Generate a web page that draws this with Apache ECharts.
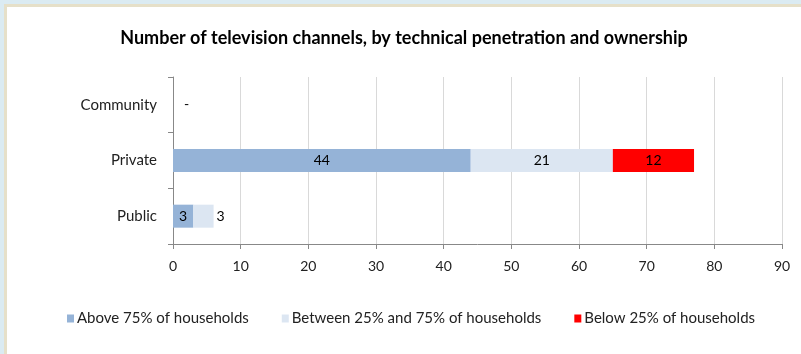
<!DOCTYPE html>
<html><head><meta charset="utf-8">
<script src="https://cdn.jsdelivr.net/npm/echarts@6/dist/echarts.min.js"></script>
<style>
html,body{margin:0;padding:0;background:#dbebf2;width:801px;height:354px;overflow:hidden;}
#frame{position:absolute;left:4px;top:4px;width:797px;height:350px;background:#e6e0c9;}
#chart{position:absolute;left:7px;top:7px;width:794px;height:347px;background:#fff;}
</style></head>
<body><div id="frame"></div><div id="chart"></div>
<script>
var categories = ['Public', 'Private', 'Community'];
var seriesNames = ['Above 75% of households', 'Between 25% and 75% of households', 'Below 25% of households'];
var above = [3, 44, 0];
var between = [3, 21, 0];
var below = [0, 12, 0];
var xTicks = [0, 10, 20, 30, 40, 50, 60, 70, 80, 90];
var colors = ['#95b3d7', '#dce6f2', '#ff0000'];

var font = 'Lato, "Open Sans", sans-serif';
var chart = echarts.init(document.getElementById('chart'));

function mk(name, vals, color, idx) {
  return {
    name: name, type: 'bar', stack: 'total', barWidth: 23,
    itemStyle: {color: color},
    label: {show: true, position: 'inside', color: '#000', fontFamily: font, fontSize: 14,
      formatter: function (p) { return p.value ? String(p.value) : ''; }},
    data: vals.map(function (v, i) {
      var d = {value: v};
      if (idx === 1 && categories[i] === 'Public') d.label = {position: 'right', distance: 3};
      if (idx === 0 && categories[i] === 'Community') d.label = {show: true, position: 'right', distance: 11, formatter: '-'};
      return d;
    })
  };
}

chart.setOption({
  animation: false,
  title: {text: 'Number of television channels, by technical penetration and ownership', left: 'center', top: 17,
    textStyle: {fontFamily: font, fontWeight: 'bold', fontSize: 18, color: '#000'}},
  legend: {top: 299, left: 55, itemWidth: 7, itemHeight: 8, itemGap: 33,
    icon: 'rect',
    textStyle: {fontFamily: font, fontSize: 15, color: '#222', padding: [0, 0, 0, -2]},
    data: seriesNames},
  grid: {left: 166, right: 19, top: 70, bottom: 110},
  xAxis: {type: 'value', min: 0, max: 90, interval: 10,
    axisLine: {show: true, lineStyle: {color: '#888'}},
    axisTick: {show: true, length: 5, lineStyle: {color: '#888'}},
    axisLabel: {color: '#222', fontFamily: font, fontSize: 14, margin: 15,
      formatter: function (v) { return xTicks.indexOf(v) >= 0 ? String(v) : ''; }},
    splitLine: {show: true, lineStyle: {color: '#d9d9d9'}}},
  yAxis: {type: 'category', data: categories,
    axisLine: {show: true, lineStyle: {color: '#888'}},
    axisTick: {show: true, length: 5, lineStyle: {color: '#888'}},
    axisLabel: {color: '#222', fontFamily: font, fontSize: 15, margin: 16}},
  series: [mk(seriesNames[0], above, colors[0], 0), mk(seriesNames[1], between, colors[1], 1), mk(seriesNames[2], below, colors[2], 2)]
});
</script></body></html>
